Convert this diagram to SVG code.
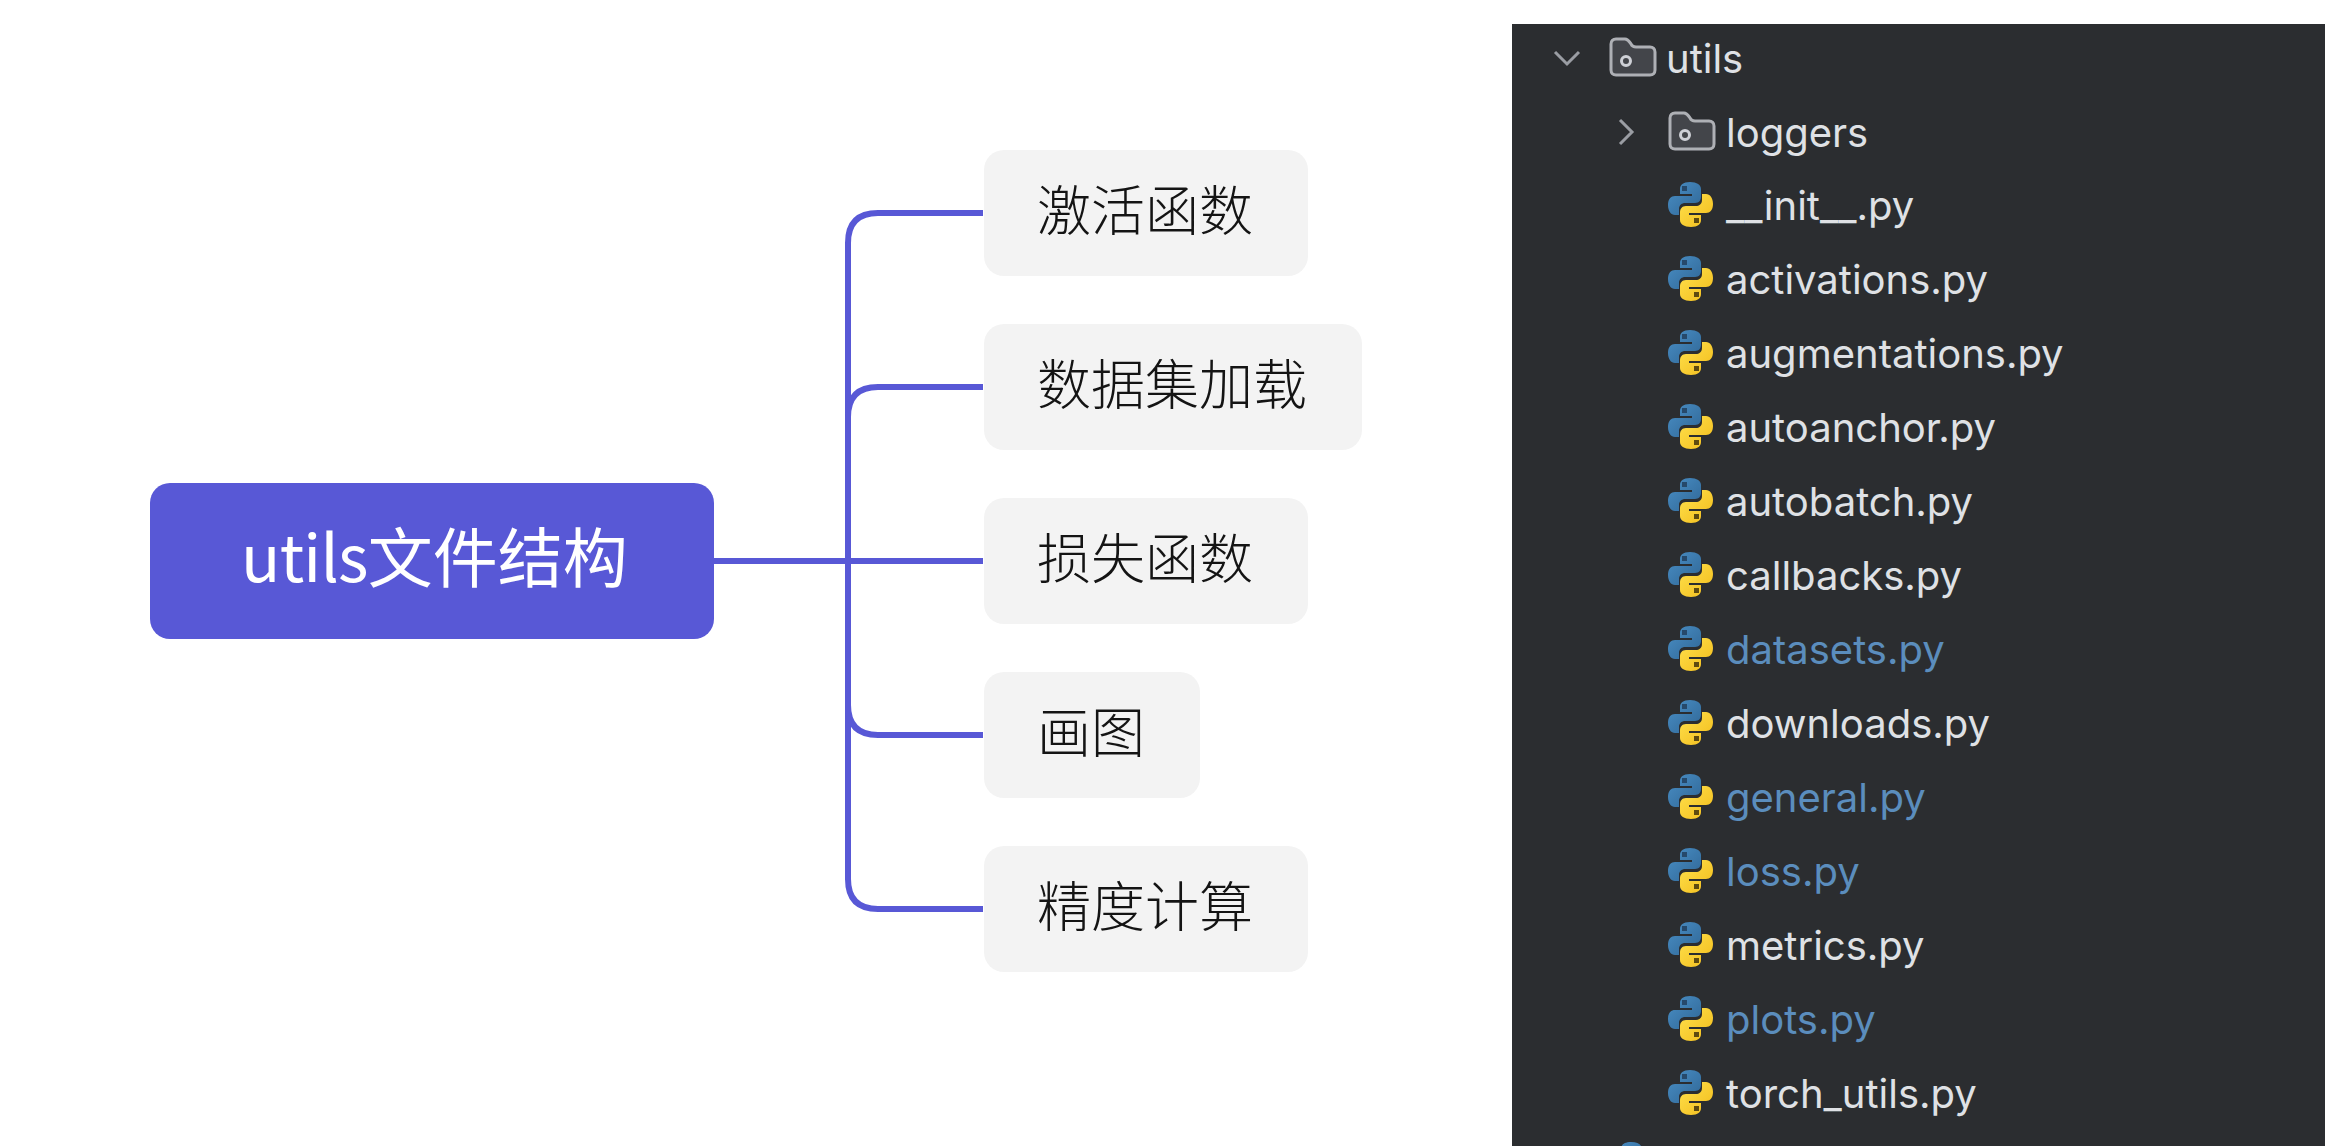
<svg xmlns="http://www.w3.org/2000/svg" width="2325" height="1146" viewBox="0 0 2325 1146">
<style>
.cjk{font-family:"Noto Sans CJK SC","Noto Sans",sans-serif;font-weight:300}
.root{fill:#5858d6}
.child{fill:#f3f3f3}
.rt{font-size:65px;fill:#fff;font-weight:400}
.ct{font-size:54px;fill:#141414}
.f{font-family:Inter,"Noto Sans",sans-serif;font-size:40px;fill:#dfe1e5}
.b{fill:#5b8dbd}
.line{fill:none;stroke:#5858d6;stroke-width:6}
.ch{fill:none;stroke:#9a9da3;stroke-width:3}
.fo{fill:#43454a;stroke:#aeb0b5;stroke-width:3;stroke-linejoin:round}
.foc{fill:none;stroke:#ced0d6;stroke-width:3}
</style>
<defs>
<linearGradient id="pb" x1="0" y1="0" x2="1" y2="1"><stop offset="0" stop-color="#4a8fc6"/><stop offset="1" stop-color="#2f6695"/></linearGradient>
<linearGradient id="py" x1="0" y1="0" x2="1" y2="1"><stop offset="0" stop-color="#ffe14d"/><stop offset="1" stop-color="#f2bc1b"/></linearGradient>
<symbol id="py-icon" viewBox="0 0 45 45" width="45" height="45" overflow="visible">
<path fill="url(#pb)" d="M22 0C15 0 12 3 12 7V12H24V14H7C3 14 0 17 0 23C0 29 3 33 7 33H11V27C11 23 14 21 17 21H27C31 21 33 18 33 15V7C33 3 29 0 22 0Z"/>
<path fill="url(#py)" d="M23 45C30 45 33 42 33 38V33H21V31H38C42 31 45 28 45 22C45 16 42 12 38 12H34V18C34 22 31 24 28 24H18C14 24 12 27 12 30V38C12 42 16 45 23 45Z"/>
<rect x="14" y="4" width="5" height="5" fill="#26496b"/>
<rect x="26" y="36" width="5" height="5" fill="#5e4a10"/>
</symbol>
<symbol id="folder" viewBox="0 0 45 36" width="45" height="36" overflow="visible">
<path class="fo" d="M5 0H14C17 0 18 2 20 5C21 7 22 8 25 8H39C42 8 44 10 44 13V31C44 34 42 36 39 36H5C2 36 0 34 0 31V5C0 2 2 0 5 0Z"/>
<circle class="foc" cx="15" cy="22" r="4.5"/>
</symbol>
</defs>
<rect width="2325" height="1146" fill="#fff"/>
<g id="connectors" class="connectors">
<path class="line" d="M713 561H983"/>
<path class="line" d="M848 880V243Q848 213 878 213H983"/>
<path class="line" d="M848 417Q848 387 878 387H983"/>
<path class="line" d="M848 705V879Q848 909 878 909H983"/>
<path class="line" d="M848 705Q848 735 878 735H983"/>
</g>
<g id="root"><rect class="root" x="150" y="483" width="564" height="156" rx="20"/><text class="cjk rt" x="241" y="582"><tspan letter-spacing="-0.8">utils</tspan>文件结构</text></g>
<g id="n1"><rect class="child" x="984" y="150" width="324" height="126" rx="20"/><text class="cjk ct" x="1037" y="231">激活函数</text></g>
<g id="n2"><rect class="child" x="984" y="324" width="378" height="126" rx="20"/><text class="cjk ct" x="1037" y="405">数据集加载</text></g>
<g id="n3"><rect class="child" x="984" y="498" width="324" height="126" rx="20"/><text class="cjk ct" x="1037" y="579">损失函数</text></g>
<g id="n4"><rect class="child" x="984" y="672" width="216" height="126" rx="20"/><text class="cjk ct" x="1037" y="753">画图</text></g>
<g id="n5"><rect class="child" x="984" y="846" width="324" height="126" rx="20"/><text class="cjk ct" x="1037" y="927">精度计算</text></g>
<g id="panel">
<rect x="1512" y="24" width="813" height="1122" fill="#2b2d30"/>
<path class="ch" d="M1555 52L1567 64L1579 52"/>
<path class="ch" d="M1620 120L1632 132L1620 144"/>
<use href="#folder" x="1611" y="39"/>
<use href="#folder" x="1670" y="113"/>
<text class="f" x="1666" y="73">utils</text>
<text class="f" x="1726" y="147">loggers</text>
<g id="files">
<use href="#py-icon" x="1668" y="182"/><text class="f" x="1726" y="220">__init__.py</text>
<use href="#py-icon" x="1668" y="256"/><text class="f" x="1726" y="294">activations.py</text>
<use href="#py-icon" x="1668" y="330"/><text class="f" x="1726" y="368">augmentations.py</text>
<use href="#py-icon" x="1668" y="404"/><text class="f" x="1726" y="442">autoanchor.py</text>
<use href="#py-icon" x="1668" y="478"/><text class="f" x="1726" y="516">autobatch.py</text>
<use href="#py-icon" x="1668" y="552"/><text class="f" x="1726" y="590">callbacks.py</text>
<use href="#py-icon" x="1668" y="626"/><text class="f b" x="1726" y="664">datasets.py</text>
<use href="#py-icon" x="1668" y="700"/><text class="f" x="1726" y="738">downloads.py</text>
<use href="#py-icon" x="1668" y="774"/><text class="f b" x="1726" y="812">general.py</text>
<use href="#py-icon" x="1668" y="848"/><text class="f b" x="1726" y="886">loss.py</text>
<use href="#py-icon" x="1668" y="922"/><text class="f" x="1726" y="960">metrics.py</text>
<use href="#py-icon" x="1668" y="996"/><text class="f b" x="1726" y="1034">plots.py</text>
<use href="#py-icon" x="1668" y="1070"/><text class="f" x="1726" y="1108">torch_utils.py</text>
<use href="#py-icon" x="1609" y="1142"/>
</g>
</g>
</svg>
